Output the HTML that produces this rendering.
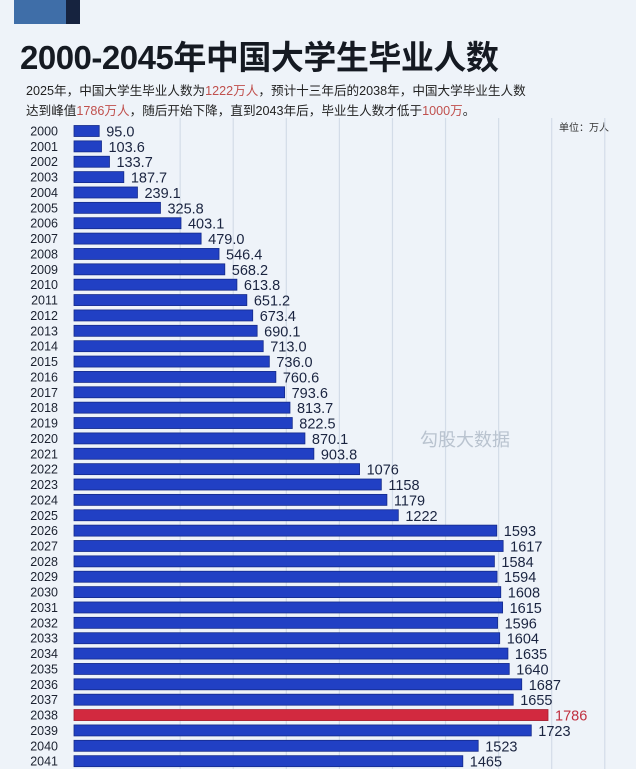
<!DOCTYPE html>
<html><head><meta charset="utf-8">
<style>
html,body{margin:0;padding:0;}
body{width:636px;height:769px;overflow:hidden;background:#eef3f9;font-family:"Liberation Sans","Noto Sans CJK SC",sans-serif;position:relative;}
.tl{position:absolute;left:14px;top:0;width:52px;height:24px;background:#3f6ea8;}
.tl2{position:absolute;left:66px;top:0;width:14px;height:24px;background:#16233f;}
h1{position:absolute;left:20px;top:31px;margin:0;font-size:33px;font-weight:bold;color:#151a22;letter-spacing:-0.5px;white-space:nowrap;}
.sub{position:absolute;left:26px;font-size:12.6px;color:#222;white-space:nowrap;}
.sub span{color:#c0504d;}
.unit{position:absolute;left:559px;top:119px;font-size:10px;color:#333;}
svg{position:absolute;left:0;top:0;}
</style></head><body>
<div class="tl"></div>
<div class="tl2"></div>
<h1>2000-2045年中国大学生毕业人数</h1>
<div class="sub" style="top:80px">2025年，中国大学生毕业人数为<span>1222万人</span>，预计十三年后的2038年，中国大学毕业生人数</div>
<div class="sub" style="top:100px">达到峰值<span>1786万人</span>，随后开始下降，直到2043年后，毕业生人数才低于<span>1000万</span>。</div>
<div class="unit">单位：万人</div>
<svg id="chart" width="636" height="769"></svg>
<script>
const years=["2000","2001","2002","2003","2004","2005","2006","2007","2008","2009","2010","2011","2012","2013","2014","2015","2016","2017","2018","2019","2020","2021","2022","2023","2024","2025","2026","2027","2028","2029","2030","2031","2032","2033","2034","2035","2036","2037","2038","2039","2040","2041"];
const values=[95.0,103.6,133.7,187.7,239.1,325.8,403.1,479.0,546.4,568.2,613.8,651.2,673.4,690.1,713.0,736.0,760.6,793.6,813.7,822.5,870.1,903.8,1076,1158,1179,1222,1593,1617,1584,1594,1608,1615,1596,1604,1635,1640,1687,1655,1786,1723,1523,1465];
const labels=["95.0","103.6","133.7","187.7","239.1","325.8","403.1","479.0","546.4","568.2","613.8","651.2","673.4","690.1","713.0","736.0","760.6","793.6","813.7","822.5","870.1","903.8","1076","1158","1179","1222","1593","1617","1584","1594","1608","1615","1596","1604","1635","1640","1687","1655","1786","1723","1523","1465"];
const gridTicks=[400,600,800,1000,1200,1400,1600,1800,2000];
const highlight="2038";
const NS="http://www.w3.org/2000/svg";
const svg=document.getElementById('chart');
const x0=74,k=(548-74)/1786;
const xs=v=>x0+v*k;
const ys=i=>131+i*15.37;
function mk(t,a){const e=document.createElementNS(NS,t);for(const n in a)e.setAttribute(n,a[n]);svg.appendChild(e);return e;}
gridTicks.forEach(t=>{
  const l=mk('line',{x1:xs(t),x2:xs(t),y1:118,y2:769,stroke:'#d3dce8','stroke-width':1.2});
  
  
});
mk('text',{x:420,y:446,'font-size':18,fill:'#b9c3cf','font-family':'"Liberation Sans","Noto Sans CJK SC",sans-serif'}).textContent='勾股大数据';
years.forEach((y,i)=>{
  const cy=ys(i);
  const red=y===highlight;
  const yl=mk('text',{x:58,y:cy+4.5,'font-size':12.5,'text-anchor':'end',fill:'#1c2230'});
  yl.textContent=y;
  
  
  const r=mk('rect',{x:x0,y:cy-5.5,width:values[i]*k,height:11,fill:red?'#d2293f':'#2140c4',stroke:red?'#a01f30':'#142a8a','stroke-width':0.8});
  
  
  const vl=mk('text',{x:xs(values[i])+7,y:cy+5.5,'font-size':14.5,fill:red?'#c0303f':'#1a2440'});
  vl.textContent=labels[i];
  
  
});
</script>
</body></html>
